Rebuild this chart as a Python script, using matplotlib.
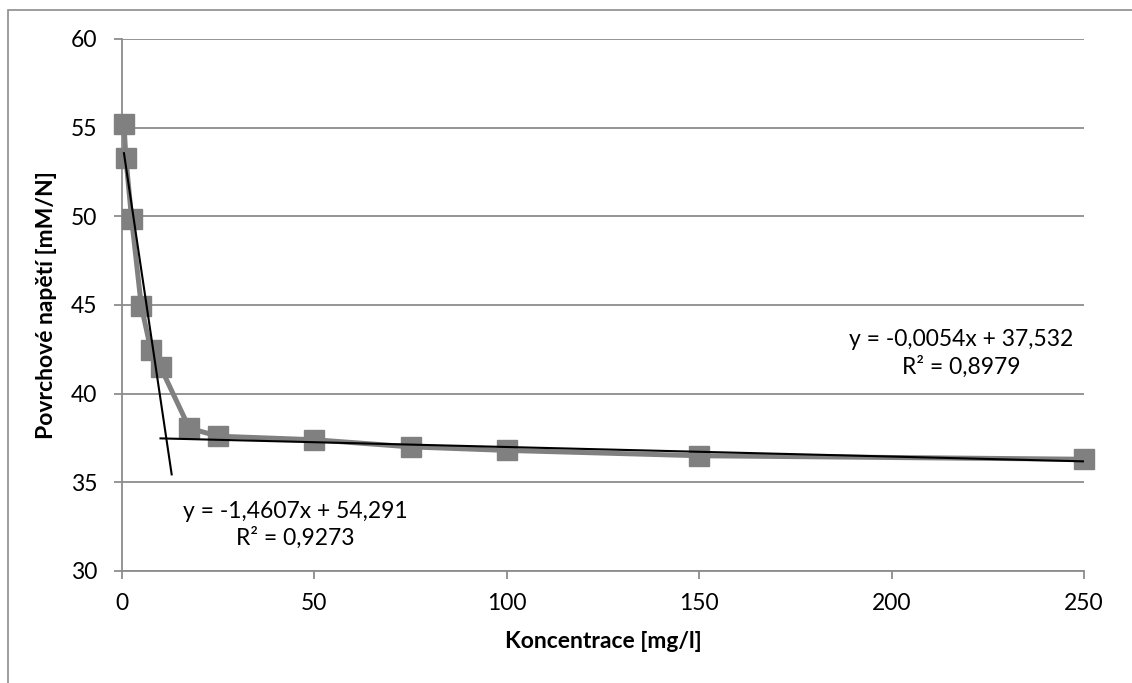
"""Surface tension vs. concentration with two linear trendlines."""

import matplotlib
matplotlib.use("Agg")

import matplotlib.pyplot as plt
import matplotlib.patches as mpatches
import numpy as np

FS = 16.5

plt.rcParams.update({
    "font.family": ["Lato", "DejaVu Sans"],
    "font.size": FS,
})

# ---------------------------------------------------------------------------
# Data
# ---------------------------------------------------------------------------
konc = [0.5, 1, 2.5, 5, 7.5, 10, 17.5, 25, 50, 75, 100, 150, 250]
napeti = [55.2, 53.3, 49.85, 44.95, 42.45, 41.5, 38.05, 37.6, 37.4, 37.0,
          36.8, 36.5, 36.3]

# trendlines: slope, intercept, x-range drawn, label
TREND1_K, TREND1_Q = -1.4607, 54.291
TREND1_X = [0.5, 12.9]
TREND1_LABEL = "y = -1,4607x + 54,291\nR² = 0,9273"

TREND2_K, TREND2_Q = -0.0054, 37.532
TREND2_X = [10, 250]
TREND2_LABEL = "y = -0,0054x + 37,532\nR² = 0,8979"

x_ticks = [0, 50, 100, 150, 200, 250]
y_ticks = [30, 35, 40, 45, 50, 55, 60]

GREY = "#808080"
GRID = "#8c8c8c"

# ---------------------------------------------------------------------------
fig = plt.figure(figsize=(11.32, 6.83), dpi=100)
ax = fig.add_axes([0.1078, 0.164, 0.8498, 0.7789])

ax.plot(konc, napeti, "-s", color=GREY, lw=3.6, ms=14, mec=GREY, mfc=GREY,
        zorder=3, clip_on=False)

for k, q, xs in ((TREND1_K, TREND1_Q, TREND1_X), (TREND2_K, TREND2_Q, TREND2_X)):
    xs = np.array(xs)
    ax.plot(xs, k * xs + q, "-", color="black", lw=1.5, zorder=4)

ax.text(45, 32.6, TREND1_LABEL, ha="center", va="center", fontsize=FS,
        linespacing=1.3)
ax.text(218, 42.26, TREND2_LABEL, ha="center", va="center", fontsize=FS,
        linespacing=1.3)

ax.set_xlim(0, 250)
ax.set_ylim(30, 60)
ax.set_xticks(x_ticks)
ax.set_yticks(y_ticks)
ax.yaxis.grid(True, color=GRID, lw=1.3)
ax.set_axisbelow(True)

for side in ("top", "right"):
    ax.spines[side].set_visible(False)
for side in ("left", "bottom"):
    ax.spines[side].set_color(GRID)
    ax.spines[side].set_linewidth(1.3)
ax.tick_params(direction="out", length=6, width=1.3, color=GRID, pad=10,
               labelsize=FS)
ax.tick_params(axis="y", pad=12)

ax.set_xlabel("Koncentrace [mg/l]", fontweight="bold", fontsize=FS, labelpad=12)
ax.set_ylabel("Povrchové napětí [mM/N]", fontweight="bold", fontsize=FS,
              labelpad=10)

# outer chart border (only left and top edges are visible in the frame)
fig.patches.append(mpatches.Rectangle(
    (8 / 1132, -0.1), 1.2, 1 - 10 / 683 + 0.1, transform=fig.transFigure,
    fill=False, edgecolor="#8c8c8c", lw=1.2))

fig.savefig("out.png", dpi=100)
plt.close(fig)
